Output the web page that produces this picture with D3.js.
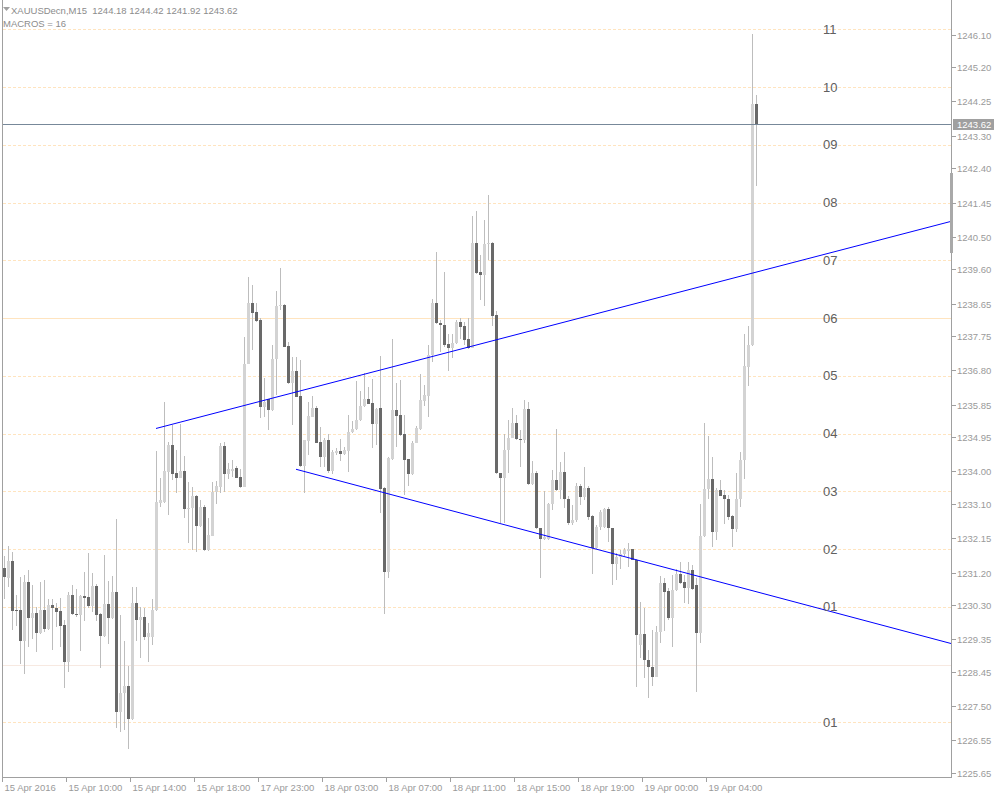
<!DOCTYPE html>
<html>
<head>
<meta charset="utf-8">
<script src="https://cdn.jsdelivr.net/npm/d3@7"></script>
<style>
body { margin: 0; background: #fff; }
svg { display: block; font-family: "Liberation Sans", Arial, sans-serif; }
</style>
</head>
<body>
<svg id="chart" width="994" height="798"></svg>
<script>
// XAUUSDecn M15, one bar every 15 minutes starting 15 Apr 06:00
const symbol = "XAUUSDecn,M15";
const indicatorName = "MACROS = 16";

const opens = [1231.32,1231.05,1231.51,1230.16,1230.16,1229.31,1230.94,1229.94,1230.08,1229.53,
1230.16,1229.63,1230.30,1230.23,1230.13,1229.74,1228.72,1230.57,1230.06,1230.02,
1230.54,1230.52,1230.27,1230.82,1230.05,1229.44,1230.32,1229.94,1230.66,1227.33,
1227.87,1228.05,1227.14,1230.36,1229.88,1229.97,1229.42,1229.42,1230.16,1233.13,
1233.16,1233.99,1234.73,1233.95,1233.82,1234.01,1232.95,1232.98,1233.32,1232.49,
1233.02,1231.82,1232.22,1233.42,1233.57,1234.70,1233.93,1234.01,1234.10,1233.84,
1233.57,1236.99,1238.67,1238.42,1238.19,1235.79,1236.00,1235.70,1237.11,1238.58,
1238.61,1237.47,1236.44,1236.78,1236.09,1234.15,1234.85,1235.51,1235.75,1234.81,
1234.41,1234.87,1234.02,1234.52,1234.56,1234.48,1234.57,1235.08,1235.17,1235.42,
1235.81,1236.00,1235.90,1235.31,1235.75,1233.54,1231.21,1234.34,1235.70,1235.56,
1235.03,1234.34,1233.93,1234.80,1235.17,1235.96,1236.09,1237.22,1238.66,1238.10,
1238.07,1237.52,1237.43,1237.55,1238.13,1238.03,1237.66,1237.43,1240.34,1239.52,
1239.44,1240.30,1240.34,1238.33,1233.95,1233.81,1234.59,1234.93,1235.35,1234.90,
1234.86,1235.73,1233.64,1233.97,1232.42,1232.14,1232.14,1233.11,1233.76,1233.48,
1233.99,1233.25,1232.56,1232.65,1233.59,1233.28,1233.55,1232.76,1231.88,1232.46,
1232.45,1232.96,1232.42,1231.43,1231.63,1231.70,1231.79,1231.84,1231.56,1229.19,
1229.51,1228.79,1228.57,1228.31,1229.56,1230.91,1230.68,1229.93,1230.71,1231.15,
1230.94,1230.78,1231.27,1230.85,1229.53,1232.21,1233.50,1233.79,1232.33,1233.48,
1233.34,1233.25,1232.76,1232.40,1233.23,1234.31,1236.90,1237.50,1244.18];

const highs = [1231.65,1231.93,1231.77,1230.57,1231.07,1231.13,1231.27,1230.85,1230.24,1230.94,
1230.99,1230.46,1230.46,1230.36,1230.48,1229.88,1230.65,1230.85,1230.74,1230.57,
1231.22,1231.74,1231.19,1230.88,1230.07,1231.68,1230.96,1231.10,1232.68,1230.02,
1229.31,1228.61,1230.79,1230.79,1230.25,1230.23,1229.81,1230.47,1234.56,1233.83,
1235.91,1234.82,1235.28,1234.59,1235.31,1234.42,1233.71,1233.57,1233.34,1233.20,
1233.07,1232.70,1233.71,1233.74,1234.79,1234.82,1234.24,1234.31,1234.15,1234.08,
1237.73,1239.39,1239.16,1238.66,1238.25,1236.59,1236.02,1237.50,1239.00,1239.63,
1238.64,1237.59,1237.18,1237.16,1237.08,1234.88,1235.93,1236.09,1235.81,1235.22,
1234.92,1235.05,1234.59,1234.65,1234.89,1234.68,1235.56,1235.40,1236.51,1236.22,
1236.72,1236.34,1236.55,1235.76,1237.20,1233.57,1234.40,1237.66,1236.44,1236.53,
1235.56,1234.35,1234.84,1235.26,1236.70,1236.39,1237.50,1238.79,1240.09,1238.19,
1239.53,1237.82,1237.82,1238.19,1238.24,1238.14,1238.24,1241.08,1241.21,1239.99,
1240.96,1241.66,1240.36,1238.44,1233.96,1235.03,1235.42,1235.77,1235.56,1235.15,
1235.98,1235.93,1234.29,1234.01,1232.43,1233.46,1233.12,1234.04,1235.17,1234.27,
1234.54,1233.32,1233.07,1233.68,1233.65,1234.11,1233.59,1232.79,1232.51,1232.93,
1232.98,1233.02,1232.43,1231.73,1231.82,1231.88,1232.02,1231.85,1231.57,1230.37,
1230.23,1229.05,1229.60,1229.71,1231.10,1231.04,1230.77,1231.13,1231.31,1231.50,
1231.13,1231.50,1231.40,1231.04,1233.09,1235.35,1234.98,1234.39,1233.53,1233.76,
1233.48,1233.34,1232.79,1233.95,1234.54,1237.82,1238.03,1246.12,1244.42];

const lows = [1230.46,1230.79,1229.60,1229.71,1228.66,1228.38,1229.14,1229.35,1229.00,1229.49,
1229.56,1229.60,1229.05,1229.69,1229.14,1228.00,1228.45,1230.02,1229.97,1229.03,
1229.86,1230.21,1230.11,1229.86,1228.56,1229.41,1229.22,1229.92,1226.88,1226.78,
1226.83,1226.30,1227.11,1229.30,1228.84,1229.33,1228.72,1229.19,1230.13,1233.02,
1233.12,1232.79,1233.76,1233.41,1233.81,1232.72,1232.02,1231.82,1231.77,1232.46,
1231.80,1231.79,1232.21,1233.11,1233.39,1233.42,1233.78,1233.85,1233.81,1233.55,
1233.56,1236.97,1237.36,1238.14,1235.47,1235.51,1235.16,1235.67,1236.12,1238.47,
1237.44,1236.42,1235.30,1236.06,1234.13,1233.39,1234.45,1235.50,1234.78,1234.11,
1234.12,1233.95,1233.93,1234.45,1234.29,1234.45,1233.99,1235.06,1235.14,1235.39,
1235.78,1235.86,1234.64,1234.73,1232.85,1230.05,1231.04,1234.31,1234.68,1234.98,
1233.34,1233.59,1233.90,1234.78,1235.14,1235.81,1235.50,1237.04,1238.08,1237.31,
1237.45,1236.79,1237.13,1237.53,1237.66,1237.50,1237.38,1237.42,1239.48,1238.75,
1238.58,1239.86,1238.03,1233.93,1232.56,1232.56,1233.95,1234.92,1234.88,1234.13,
1234.78,1233.62,1233.62,1232.40,1231.04,1232.10,1232.10,1232.93,1233.45,1233.25,
1232.98,1232.51,1232.51,1232.60,1233.07,1233.20,1232.65,1231.15,1231.85,1232.37,
1232.43,1232.05,1230.85,1230.99,1231.31,1231.65,1231.36,1231.54,1228.02,1228.82,
1228.29,1227.71,1228.05,1228.30,1229.25,1229.58,1229.88,1229.14,1230.68,1230.88,
1230.36,1230.34,1230.71,1227.89,1229.25,1232.18,1233.25,1231.91,1232.10,1233.32,
1232.54,1232.65,1231.91,1232.33,1233.02,1233.79,1236.37,1237.47,1241.92];

const closes = [1231.07,1231.51,1230.14,1230.15,1229.31,1230.94,1229.94,1230.08,1229.53,1230.16,
1229.63,1230.30,1230.22,1230.10,1229.71,1228.72,1230.57,1230.05,1230.02,1230.54,
1230.50,1230.27,1230.82,1230.02,1229.44,1230.32,1229.94,1230.66,1227.33,1227.87,
1228.05,1227.14,1230.36,1229.88,1229.97,1229.42,1229.52,1230.16,1233.15,1233.20,
1234.02,1234.73,1233.93,1233.82,1234.01,1232.95,1232.99,1233.32,1232.49,1233.02,
1231.82,1232.24,1233.44,1233.59,1234.70,1233.93,1234.08,1234.06,1233.82,1233.57,
1236.99,1238.67,1238.40,1238.17,1235.79,1235.93,1235.70,1237.11,1238.58,1238.61,
1237.45,1236.44,1236.78,1236.07,1234.15,1234.87,1235.53,1235.75,1234.79,1234.41,
1234.87,1234.02,1234.53,1234.57,1234.48,1234.59,1235.08,1235.17,1235.42,1235.81,
1236.00,1235.88,1235.31,1235.74,1233.52,1231.21,1234.38,1235.70,1235.54,1235.01,
1234.31,1233.93,1234.80,1235.19,1235.98,1236.12,1237.22,1238.66,1238.10,1238.05,
1237.50,1237.43,1237.55,1238.13,1238.01,1237.64,1237.43,1240.34,1239.50,1239.44,
1240.30,1240.34,1238.30,1233.95,1233.81,1234.59,1234.93,1235.35,1234.89,1234.86,
1235.73,1233.64,1233.97,1232.42,1232.14,1232.19,1233.11,1233.76,1233.48,1233.99,
1233.25,1232.56,1232.65,1233.59,1233.28,1233.53,1232.74,1231.88,1232.47,1232.87,
1232.96,1232.42,1231.43,1231.63,1231.70,1231.82,1231.84,1231.56,1229.46,1229.51,
1228.79,1228.57,1228.31,1229.56,1230.91,1230.66,1229.93,1230.71,1231.15,1230.90,
1230.78,1231.27,1230.74,1229.53,1232.21,1233.50,1233.79,1232.33,1233.48,1233.32,
1233.23,1232.74,1232.40,1233.23,1234.31,1236.92,1237.50,1244.18,1243.62];

// time axis: a label every 16 bars (4 hours)
const timeLabels = ["15 Apr 2016","15 Apr 10:00","15 Apr 14:00","15 Apr 18:00","17 Apr 23:00","18 Apr 03:00",
  "18 Apr 07:00","18 Apr 11:00","18 Apr 15:00","18 Apr 19:00","19 Apr 00:00","19 Apr 04:00"];
const barsPerLabel = 16;

const priceTicks = [1246.10,1245.20,1244.25,1243.30,1242.40,1241.45,1240.50,1239.60,1238.65,1237.75,1236.80,
  1235.85,1234.95,1234.00,1233.10,1232.15,1231.20,1230.30,1229.35,1228.45,1227.50,1226.55,1225.65];

// MACROS levels
const levelPrices = [1227.05,1228.65,1230.25,1231.85,1233.45,1235.05,1236.65,1238.25,1239.85,1241.45,1243.05,1244.65,1246.25];
const levelLabels = ["01","","01","02","03","04","05","06","07","08","09","10","11"];

// trend lines: [bar, price] anchors, drawn as rays to the right
const trendUpper = [[38, 1235.19], [188, 1239.52]];
const trendLower = [[73, 1234.06], [188, 1230.67]];

const W = 994, H = 798;
const plotRight = 951, plotBottom = 777;

const x = d3.scaleLinear().domain([0, 236.75]).range([4, plotRight]);
const y = d3.scaleLinear().domain([1225.535, 1247.06]).range([plotBottom, 0]);

const svg = d3.select("#chart");
const bars = opens.map((o, i) => ({ i: i, o: o, h: highs[i], l: lows[i], c: closes[i] }));

// level lines
const lv = svg.append("g");
levelPrices.forEach((p, k) => {
    const yy = Math.round(y(p)) + 0.5;
    const solid = levelLabels[k] === "" || levelLabels[k] === "06";
    lv.append("line")
        .attr("x1", 3).attr("x2", plotRight)
        .attr("y1", yy).attr("y2", yy)
        .attr("stroke", levelLabels[k] === "" ? "#f7e9e1" : "#ffe4bf")
        .attr("stroke-dasharray", solid ? null : "3,2")
        .attr("shape-rendering", "crispEdges");
});

// candles
const g = svg.append("g").attr("shape-rendering", "crispEdges");
g.selectAll("line.wick")
    .data(bars)
    .join("line")
    .attr("class", "wick")
    .attr("x1", d => Math.round(x(d.i)) + 0.5)
    .attr("x2", d => Math.round(x(d.i)) + 0.5)
    .attr("y1", d => y(d.h))
    .attr("y2", d => y(d.l))
    .attr("stroke", "#bdbdbd");

g.selectAll("rect.body")
    .data(bars)
    .join("rect")
    .attr("class", "body")
    .attr("x", d => Math.round(x(d.i)) - 1)
    .attr("width", 3)
    .attr("y", d => y(Math.max(d.o, d.c)))
    .attr("height", d => Math.max(1, Math.abs(y(d.o) - y(d.c))))
    .attr("fill", d => d.c >= d.o ? "#d3d3d3" : "#696969");

// trend lines
function ray(pts) {
    const [a, b] = pts;
    const slope = (b[1] - a[1]) / (b[0] - a[0]);
    const endBar = x.domain()[1];
    return [[a[0], a[1]], [endBar, a[1] + slope * (endBar - a[0])]];
}
const tl = svg.append("g");
[trendUpper, trendLower].forEach(t => {
    tl.append("path")
        .datum(ray(t))
        .attr("d", d3.line().x(d => x(d[0])).y(d => y(d[1])))
        .attr("fill", "none")
        .attr("stroke", "#0000ff")
        .attr("stroke-width", 1);
});

// level labels
svg.append("g").selectAll("text")
    .data(levelPrices.map((p, k) => ({ p: p, t: levelLabels[k] })).filter(d => d.t !== ""))
    .join("text")
    .attr("x", 823)
    .attr("y", d => y(d.p))
    .attr("dy", "0.36em")
    .attr("font-size", 13)
    .attr("fill", "#606060")
    .text(d => d.t);

// current price line
const last = bars[bars.length - 1];
svg.append("line")
    .attr("x1", 3).attr("x2", plotRight)
    .attr("y1", Math.round(y(last.c)) + 0.5).attr("y2", Math.round(y(last.c)) + 0.5)
    .attr("stroke", "#778899")
    .attr("shape-rendering", "crispEdges");

// frame
svg.append("path")
    .attr("d", `M2.5,0V${plotBottom + 0.5}H${plotRight + 0.5}V0`)
    .attr("fill", "none")
    .attr("stroke", "#a0a0a0")
    .attr("shape-rendering", "crispEdges");

// scroll marker on the price axis
svg.append("rect")
    .attr("x", plotRight - 1).attr("width", 3)
    .attr("y", 173).attr("height", 80)
    .attr("fill", "#a9a9a9");

// price axis
const ya = svg.append("g").attr("font-size", 9.5).attr("fill", "#9a9a9a");
priceTicks.forEach(p => {
    const yy = Math.round(y(p)) + 0.5;
    ya.append("line")
        .attr("x1", plotRight + 1).attr("x2", plotRight + 5)
        .attr("y1", yy).attr("y2", yy)
        .attr("stroke", "#a0a0a0")
        .attr("shape-rendering", "crispEdges");
    ya.append("text")
        .attr("x", 957).attr("y", yy).attr("dy", "0.35em")
        .text(p.toFixed(2));
});

// current price box
const cy = Math.round(y(last.c));
svg.append("rect")
    .attr("x", plotRight + 2).attr("y", cy - 5)
    .attr("width", W - plotRight - 2).attr("height", 11)
    .attr("fill", "#a0a0a0");
svg.append("text")
    .attr("x", 957).attr("y", cy + 0.5).attr("dy", "0.35em")
    .attr("font-size", 9.5).attr("fill", "#fff")
    .text(last.c.toFixed(2));

// time axis
const xa = svg.append("g").attr("font-size", 9.5).attr("fill", "#9a9a9a");
timeLabels.forEach((t, k) => {
    const xx = Math.round(x(k * barsPerLabel)) - 1.5;
    xa.append("line")
        .attr("x1", xx).attr("x2", xx)
        .attr("y1", plotBottom).attr("y2", plotBottom + 5)
        .attr("stroke", "#a0a0a0")
        .attr("shape-rendering", "crispEdges");
    xa.append("text")
        .attr("x", xx + 2).attr("y", 791)
        .text(t);
});

// header
svg.append("path")
    .attr("d", "M3,7H10L6.5,11Z")
    .attr("fill", "#a0a0a0");
svg.append("text")
    .attr("x", 11).attr("y", 14)
    .attr("font-size", 9.5).attr("fill", "#8c8c8c")
    .style("white-space", "pre")
    .text(`${symbol}  ${last.o.toFixed(2)} ${last.h.toFixed(2)} ${last.l.toFixed(2)} ${last.c.toFixed(2)}`);
svg.append("text")
    .attr("x", 3).attr("y", 27)
    .attr("font-size", 9.5).attr("fill", "#8c8c8c")
    .text(indicatorName);
</script>
</body>
</html>
